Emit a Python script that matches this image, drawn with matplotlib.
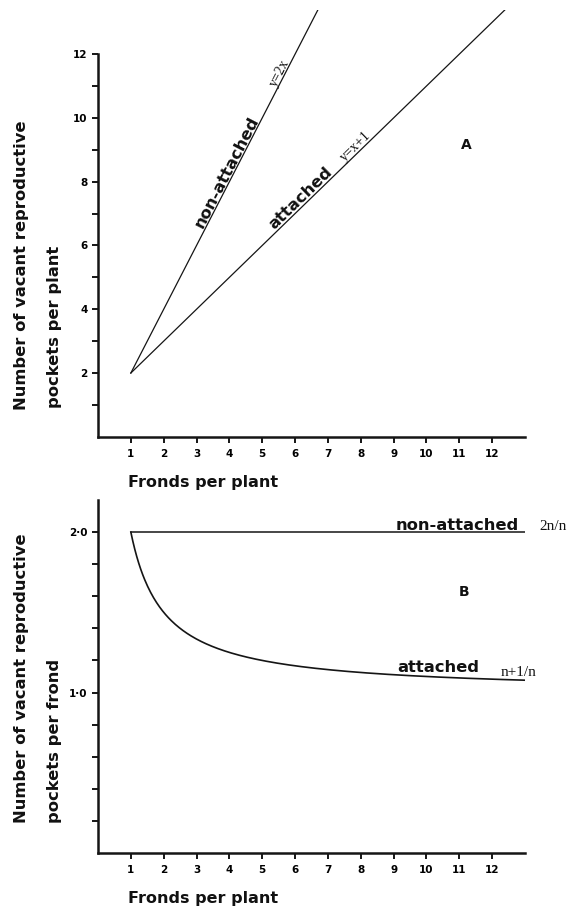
import numpy as np
import matplotlib
matplotlib.use("Agg")
import matplotlib.pyplot as plt
from matplotlib.ticker import FixedLocator

# Fronds per plant and vacant reproductive pockets per plant
fronds = [1, 2, 3, 4, 5, 6, 7, 8, 9, 10, 11, 12, 13]
pockets_nonattached = [2, 4, 6, 8, 10, 12, 14, 16, 18, 20, 22, 24, 26]   # y = 2x
pockets_attached = [2, 3, 4, 5, 6, 7, 8, 9, 10, 11, 12, 13, 14]          # y = x + 1

x_ticks = [1, 2, 3, 4, 5, 6, 7, 8, 9, 10, 11, 12]
a_major = [2, 4, 6, 8, 10, 12]
a_minor = [1, 3, 5, 7, 9, 11]
b_major = [1.0, 2.0]
b_major_labels = ["1·0", "2·0"]
b_minor = [0.2, 0.4, 0.6, 0.8, 1.2, 1.4, 1.6, 1.8]

W, H = 579, 910
fig = plt.figure(figsize=(W / 100, H / 100), dpi=100)
fig.patch.set_facecolor("white")

BOLD = dict(family="DejaVu Sans", fontweight="bold", color="#111111")
SERIF = dict(family="Liberation Serif", color="#111111")
INK = "#151515"


def style_axes(ax):
    for s in ("top", "right"):
        ax.spines[s].set_visible(False)
    for s in ("left", "bottom"):
        ax.spines[s].set_linewidth(1.8)
        ax.spines[s].set_color(INK)
    ax.tick_params(which="both", direction="out", length=4.5, width=1.4,
                   color=INK, labelsize=7.5, pad=3)
    ax.tick_params(axis="x", pad=4)
    for lab in ax.get_xticklabels() + ax.get_yticklabels():
        lab.set_fontweight("bold")
        lab.set_family("DejaVu Sans")


# ---------------- Panel A: pockets per plant ----------------
axA = fig.add_axes([98 / W, 1 - 436.8 / H, 427 / W, (436.8 - 9.5) / H])
axA.set_xlim(0, 13)
axA.set_ylim(0, 13.4)
axA.plot(fronds, pockets_nonattached, color=INK, lw=0.9)
axA.plot(fronds, pockets_attached, color=INK, lw=0.9)
axA.set_xticks(x_ticks)
axA.set_yticks(a_major)
axA.yaxis.set_minor_locator(FixedLocator(a_minor))
axA.spines["left"].set_bounds(0, 12)
style_axes(axA)

ang2 = np.degrees(np.arctan(2.0))
ang1 = np.degrees(np.arctan(1.0))
axA.text(3.2, 6.4 + 0.12, "non-attached", rotation=ang2, transform_rotates_text=True,
         rotation_mode="anchor", ha="left", va="baseline", fontsize=11.8, **BOLD)
axA.text(5.42, 10.84 + 0.1, "y=2x", rotation=ang2, transform_rotates_text=True,
         rotation_mode="anchor", ha="left", va="baseline", fontsize=10, **SERIF)
axA.text(5.36, 6.36 + 0.12, "attached", rotation=ang1, transform_rotates_text=True,
         rotation_mode="anchor", ha="left", va="baseline", fontsize=11.8, **BOLD)
axA.text(7.5, 8.5 + 0.12, "y=x+1", rotation=ang1, transform_rotates_text=True,
         rotation_mode="anchor", ha="left", va="baseline", fontsize=10, **SERIF)
fig.text(466 / W, 1 - 145 / H, "A", ha="center", va="center", fontsize=10, **BOLD)

fig.text(22 / W, 1 - 410 / H, "Number of vacant reproductive", rotation=90,
         ha="center", va="bottom", fontsize=11.8, **BOLD)
fig.text(55 / W, 1 - 408 / H, "pockets per plant", rotation=90,
         ha="center", va="bottom", fontsize=11.8, **BOLD)
fig.text(128 / W, 1 - 483 / H, "Fronds per plant", ha="left", va="center",
         fontsize=11.5, **BOLD)

# ---------------- Panel B: pockets per frond ----------------
axB = fig.add_axes([98 / W, 1 - 853 / H, 427 / W, (853 - 500) / H])
axB.set_xlim(0, 13)
axB.set_ylim(0, 2.2)
n = np.linspace(fronds[0], fronds[-1], 400)
axB.plot([fronds[0], fronds[-1]],
         [pockets_nonattached[0] / fronds[0], pockets_nonattached[-1] / fronds[-1]],
         color=INK, lw=1.1)
axB.plot(n, (n + 1) / n, color=INK, lw=1.2)
axB.set_xticks(x_ticks)
axB.set_yticks(b_major)
axB.set_yticklabels(b_major_labels)
axB.yaxis.set_minor_locator(FixedLocator(b_minor))
style_axes(axB)

axB.annotate("non-attached", xy=(9.05, 2.0), xytext=(0, 1.5), textcoords="offset points",
             ha="left", va="baseline", fontsize=11.8, **BOLD)
axB.annotate("2n/n", xy=(13.45, 2.0), xytext=(0, 1.5), textcoords="offset points",
             ha="left", va="baseline", fontsize=11, annotation_clip=False, **SERIF)
axB.annotate("attached", xy=(9.1, 1.11), xytext=(0, 2), textcoords="offset points",
             ha="left", va="baseline", fontsize=11.8, **BOLD)
axB.annotate("n+1/n", xy=(12.25, 1.082), xytext=(0, 2.5), textcoords="offset points",
             ha="left", va="baseline", fontsize=11, annotation_clip=False, **SERIF)
fig.text(464 / W, 1 - 592 / H, "B", ha="center", va="center", fontsize=10, **BOLD)

fig.text(22 / W, 1 - 823 / H, "Number of vacant reproductive", rotation=90,
         ha="center", va="bottom", fontsize=11.8, **BOLD)
fig.text(55 / W, 1 - 823 / H, "pockets per frond", rotation=90,
         ha="center", va="bottom", fontsize=11.8, **BOLD)
fig.text(128 / W, 1 - 898 / H, "Fronds per plant", ha="left", va="center",
         fontsize=11.5, **BOLD)

fig.savefig("out.png", dpi=100, facecolor="white")
